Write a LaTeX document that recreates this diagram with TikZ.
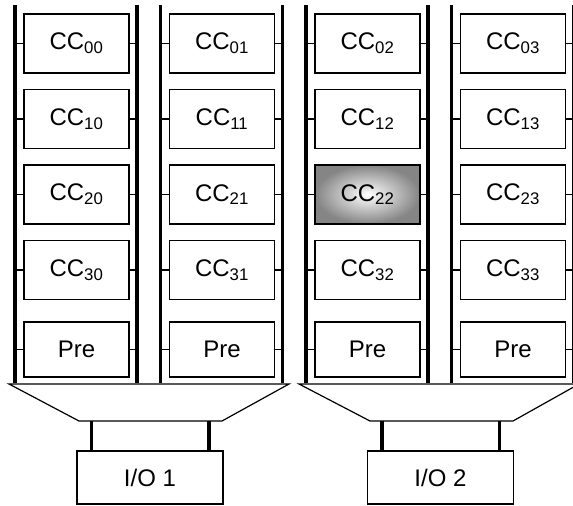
\documentclass[tikz,border=0pt]{standalone}
\usepackage{fontspec}
\setmainfont{Liberation Sans}
\usetikzlibrary{calc}

\begin{document}
\begin{tikzpicture}[x=1pt, y=-1pt,
    ccbox/.style={draw, line width=1.5pt, minimum width=105pt, minimum height=59pt, inner sep=0pt, font=\fontsize{24}{28}\selectfont},
    prebox/.style={ccbox, minimum height=55pt},
    hotbox/.style={ccbox, inner color=white, outer color=black!48},
    iobox/.style={draw, line width=1.5pt, minimum width=146pt, minimum height=53pt, inner sep=0pt, font=\fontsize{24}{28}\selectfont},
    bus/.style={line width=3.5pt},
    stub/.style={line width=1.2pt},
    link/.style={line width=3.5pt}]
  \useasboundingbox (0,0) rectangle (573,506);

  % four columns of cells with their buses
  \foreach \c in {0,...,3} {
    \pgfmathsetmacro{\lx}{15+145.5*\c}
    \pgfmathsetmacro{\mx}{\lx+61.5}
    \coordinate (lbus\c) at (\lx,5);
    \coordinate (rbus\c) at (\lx+122,5);
    \draw[bus] (lbus\c) -- ++(0,378);
    \draw[bus] (rbus\c) -- ++(0,378);
    \foreach \y/\r in {43.5/0, 119/1, 194.5/2, 270/3} {
      \def\look{ccbox}\ifnum\r\c=22 \def\look{hotbox}\fi
      \node[\look] (cc\r\c) at (\mx,\y) {CC\textsubscript{\r\c}};
      \draw[stub] (cc\r\c.west) -- (lbus\c |- cc\r\c.west);
      \draw[stub] (cc\r\c.east) -- (rbus\c |- cc\r\c.east);
    }
    \node[prebox] (pre\c) at (\mx,349.5) {Pre};
    \draw[stub] (pre\c.west) -- (lbus\c |- pre\c.west);
    \draw[stub] (pre\c.east) -- (rbus\c |- pre\c.east);
  }

  % funnels down to the I/O units
  \foreach \p/\tl/\bl/\mid in {1/9/79/150, 2/299/370/440.5} {
    \draw[line width=1.2pt] (\tl,384) -- (\tl+280,384) -- (\bl+143,421) -- (\bl,421) -- cycle;
    \coordinate (mux\p) at (\bl+71.5,421);
    \node[iobox] (io\p) at (\mid,477.5) {I/O \p};
    \draw[link] ([xshift=15pt]io\p.north west) -- ([xshift=15pt]io\p.north west |- mux\p);
    \draw[link] ([xshift=-15pt]io\p.north east) -- ([xshift=-15pt]io\p.north east |- mux\p);
  }
\end{tikzpicture}
\end{document}
